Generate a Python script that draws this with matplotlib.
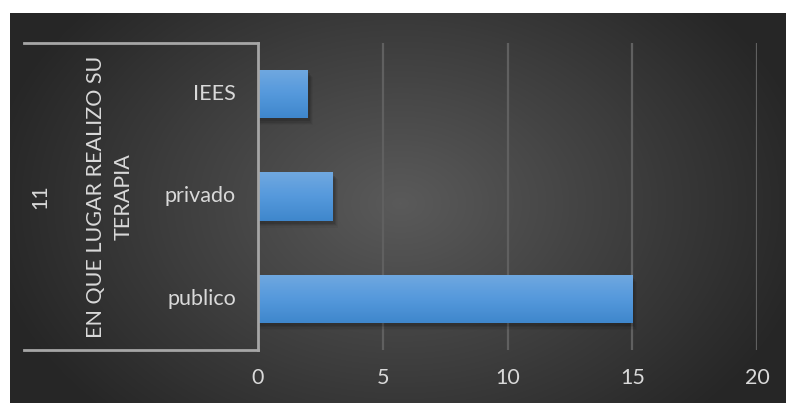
import numpy as np
import matplotlib.pyplot as plt
from matplotlib.colors import LinearSegmentedColormap

categories = ["publico", "privado", "IEES"]
values = [15, 3, 2]
group_label = "EN QUE LUGAR REALIZO SU\nTERAPIA"
group_id = "11"
x_ticks = [0, 5, 10, 15, 20]

W, H = 786, 403
plt.rcParams['font.family'] = ['Lato', 'DejaVu Sans']
text_color = "#d9d9d9"
fs = 15.5

fig = plt.figure(figsize=(W / 100, H / 100), dpi=100, facecolor="white")

# dark radial background of the chart area
bg = fig.add_axes([10 / W, 0, (W - 10) / W, (H - 13) / H])
bg.set_axis_off()
yy, xx = np.mgrid[0:390, 0:776]
cx, cy = 390, 190
r = np.sqrt(((xx - cx) / 420) ** 2 + ((yy - cy) / 300) ** 2)
r = np.clip(r, 0, 1)
bg_cmap = LinearSegmentedColormap.from_list("bg", ["#5a5a5a", "#404040", "#262626"])
bg.imshow(r, cmap=bg_cmap, aspect="auto", extent=(0, 1, 0, 1), vmin=0, vmax=1)
bg.set_xlim(0, 1)
bg.set_ylim(0, 1)

left, right, top, bottom = 258, 757, 43, 350
ax = fig.add_axes([left / W, 1 - bottom / H, (right - left) / W, (bottom - top) / H])
ax.patch.set_alpha(0)
ax.set_xlim(0, 20)
ax.set_ylim(-0.5, 2.5)
ax.set_xticks(x_ticks)
ax.set_yticks([])
ax.tick_params(axis="x", length=0, colors=text_color, labelsize=fs, pad=13)
for s in ax.spines.values():
    s.set_visible(False)
ax.grid(axis="x", color="#606060", linewidth=1.6, zorder=0)
ax.set_axisbelow(True)

ypos = np.arange(len(categories))
bar_h = 0.47
bars = ax.barh(ypos, values, height=bar_h, color="#5b9bd5", zorder=3)

bar_cmap = LinearSegmentedColormap.from_list("bar", ["#3f87cc", "#5599dc", "#70a8e0"])
grad = np.linspace(0, 1, 64).reshape(-1, 1)
for b in bars:
    x0, y0, w, h = b.get_x(), b.get_y(), b.get_width(), b.get_height()
    # soft shadow under each bar
    for k, a in enumerate([0.10, 0.08, 0.06, 0.04]):
        d = 0.012 * (k + 1)
        ax.add_patch(plt.Rectangle((x0 + 0.05, y0 - d - 0.02), w + 0.04 * (k + 1), h,
                                   color="black", alpha=a, lw=0, zorder=2))
    im = ax.imshow(grad, cmap=bar_cmap, aspect="auto", origin="lower",
                   extent=(x0, x0 + w, y0, y0 + h), zorder=4)
    im.set_clip_path(b)
ax.set_xlim(0, 20)
ax.set_ylim(-0.5, 2.5)

# multi-level category axis
px = lambda x: (x - left) / (right - left)
line_kw = dict(color="#a6a6a6", linewidth=2, transform=ax.transAxes, clip_on=False, zorder=5)
ax.plot([px(24), 0], [1, 1], **line_kw)
ax.plot([px(24), 0], [0, 0], **line_kw)
ax.plot([0, 0], [0, 1], **line_kw)

for y, c in zip(ypos, categories):
    ax.text(px(236), y, c, ha="right", va="center", color=text_color, fontsize=fs,
            transform=ax.get_yaxis_transform())
ax.text(px(110), 0.5, group_label, rotation=90, ha="center", va="center",
        color=text_color, fontsize=fs, linespacing=1.45, multialignment="center",
        transform=ax.transAxes)
ax.text(px(40), 0.5, group_id, rotation=90, ha="center", va="center",
        color=text_color, fontsize=fs, transform=ax.transAxes)

fig.savefig("out.png", dpi=100, facecolor="white")
